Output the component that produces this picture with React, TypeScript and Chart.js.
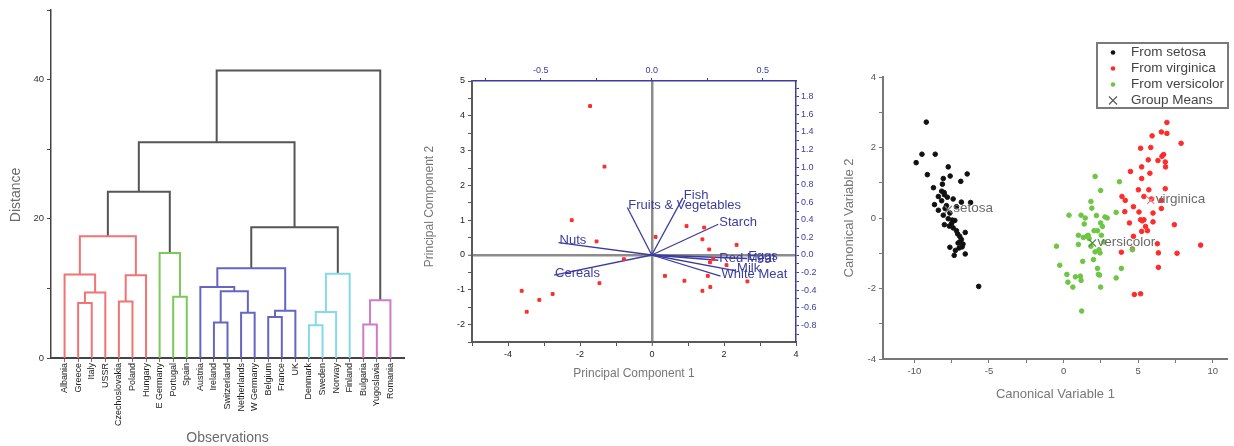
import React, { useEffect, useRef } from 'react';
import { Chart, registerables } from 'chart.js';

Chart.register(...registerables);

const FONT = "'Liberation Sans', Arial, sans-serif";

// ---------------- Panel 1: dendrogram ----------------
const countries = ['Albania', 'Greece', 'Italy', 'USSR', 'Czechoslovakia', 'Poland', 'Hungary', 'E Germany', 'Portugal', 'Spain', 'Austria', 'Ireland', 'Switzerland', 'Netherlands', 'W Germany', 'Belgium', 'France', 'UK', 'Denmark', 'Sweden', 'Norway', 'Finland', 'Bulgaria', 'Yugoslavia', 'Romania'];
const countryCluster = [0, 0, 0, 0, 0, 0, 0, 1, 1, 1, 2, 2, 2, 2, 2, 2, 2, 2, 3, 3, 3, 3, 4, 4, 4];
// linkage: node ids < 25 are countries, 25 + k is the k-th merge
const mergeLeft = [1, 25, 0, 4, 28, 27, 8, 7, 30, 11, 13, 34, 10, 15, 38, 37, 18, 41, 42, 40, 33, 22, 46, 45];
const mergeRight = [2, 3, 26, 5, 6, 29, 9, 31, 32, 12, 14, 35, 36, 16, 17, 39, 19, 20, 21, 43, 44, 23, 24, 47];
const mergeHeight = [7.9, 9.4, 12.0, 8.1, 11.9, 17.5, 8.8, 15.1, 23.9, 5.1, 6.5, 9.6, 10.2, 5.9, 6.8, 12.9, 4.7, 6.6, 12.1, 18.8, 31.0, 4.8, 8.3, 41.3];
const distanceTicks = [0, 10, 20, 30, 40, 50];
const distanceLabelled = [0, 20, 40];

// ---------------- Panel 2: biplot ----------------
const scorePC1 = [-1.72, -1.32, -2.23, -1.54, -0.78, -1.46, -3.62, -2.76, -3.13, -3.48, 0.10, 0.96, 1.45, 1.40, 1.59, 2.35, 1.70, 1.61, 2.07, 0.36, 0.90, 1.55, 1.40, 1.62, 2.65];
const scorePC2 = [4.28, 2.54, 1.00, 0.39, -0.12, -0.81, -1.03, -1.12, -1.29, -1.63, 0.52, 0.83, 0.79, 0.45, 0.16, 0.29, -0.11, -0.21, -0.29, -0.60, -0.74, -0.60, -1.03, -0.92, -0.76];
const foodVariables = ['Red Meat', 'White Meat', 'Eggs', 'Milk', 'Fish', 'Cereals', 'Starch', 'Nuts', 'Fruits & Vegetables'];
const loadingPC1 = [0.30, 0.31, 0.43, 0.38, 0.14, -0.44, 0.30, -0.42, -0.11];
const loadingPC2 = [-0.06, -0.24, -0.04, -0.18, 0.65, -0.23, 0.35, 0.14, 0.54];
const pc1Range = [-5, 4];
const pc2Range = [-2.5, 5];
const loading1Range = [-0.81, 0.65];
const loading2Range = [-0.99, 1.98];
const pc1Ticks = [-5, -4, -3, -2, -1, 0, 1, 2, 3, 4];
const pc1Labelled = [-4, -2, 0, 2, 4];
const pc2Ticks = [-2.5, -2, -1.5, -1, -0.5, 0, 0.5, 1, 1.5, 2, 2.5, 3, 3.5, 4, 4.5, 5];
const pc2Labelled = [-2, -1, 0, 1, 2, 3, 4, 5];
const loading1Ticks = [-0.75, -0.5, -0.25, 0, 0.25, 0.5];
const loading1Labelled = [-0.5, 0, 0.5];
const loading2Ticks = [-0.9, -0.8, -0.7, -0.6, -0.5, -0.4, -0.3, -0.2, -0.1, 0, 0.1, 0.2, 0.3, 0.4, 0.5, 0.6, 0.7, 0.8, 0.9, 1.0, 1.1, 1.2, 1.3, 1.4, 1.5, 1.6, 1.7, 1.8, 1.9];
const loading2Labelled = [-0.8, -0.6, -0.4, -0.2, 0, 0.2, 0.4, 0.6, 0.8, 1.0, 1.2, 1.4, 1.6, 1.8];

// ---------------- Panel 3: canonical (LDA) scores ----------------
const setosaCV1 = [-9.20, -9.49, -8.60, -9.88, -9.13, -7.73, -7.60, -8.06, -6.46, -6.89, -8.12, -8.72, -8.17, -7.99, -8.39, -7.79, -7.40, -8.17, -6.85, -6.23, -8.65, -7.18, -7.94, -8.39, -7.62, -8.06, -7.73, -7.29, -7.99, -7.66, -7.40, -7.18, -6.59, -6.96, -6.85, -7.07, -6.74, -7.62, -7.25, -7.33, -6.59, -5.69, -7.46, -7.10, -6.95, -7.00, -8.00, -7.85, -7.50, -6.80];
const setosaCV2 = [2.72, 1.81, 1.81, 1.57, 1.23, 1.45, 1.19, 1.12, 1.25, 1.04, 0.96, 0.86, 0.76, 0.66, 0.61, 0.59, 0.54, 0.49, 0.45, 0.44, 0.38, 0.32, 0.27, 0.22, 0.14, 0.08, -0.02, -0.07, -0.19, -0.23, -0.28, -0.36, -0.41, -0.52, -0.61, -0.71, -0.74, -0.83, -0.92, -1.06, -1.02, -1.94, -0.06, -0.45, -0.68, -0.85, 0.72, 0.35, -0.15, -0.82];
const virginicaCV1 = [6.92, 6.55, 6.92, 5.93, 7.87, 5.84, 5.16, 6.70, 6.59, 5.67, 6.32, 6.81, 6.83, 5.23, 4.48, 5.78, 5.23, 5.01, 5.71, 6.81, 3.91, 4.13, 5.38, 5.89, 6.55, 4.68, 6.55, 4.10, 5.05, 5.99, 5.16, 5.38, 4.41, 5.99, 7.42, 5.49, 5.23, 5.62, 4.68, 6.28, 9.18, 4.61, 3.87, 6.35, 7.60, 6.35, 4.74, 5.16, 5.27];
const virginicaCV2 = [2.71, 2.44, 2.40, 2.33, 2.12, 2.00, 1.98, 1.80, 1.75, 1.65, 1.63, 1.59, 1.45, 1.45, 1.32, 1.27, 1.12, 0.80, 0.80, 0.83, 0.61, 0.50, 0.61, 0.54, 0.50, 0.32, 0.27, 0.18, 0.17, 0.14, -0.05, -0.05, -0.14, -0.11, -0.19, -0.24, -0.38, -0.36, -0.52, -0.73, -0.77, -0.88, -0.97, -0.99, -1.00, -1.40, -2.17, -2.15, -0.08];
const versicolorCV1 = [2.11, 3.74, 2.48, 1.83, 1.89, 3.52, 0.36, 1.17, 1.45, 2.20, 2.77, 2.92, 1.38, 2.48, 2.60, 2.04, 2.27, 0.99, 1.65, 1.32, 2.53, 1.71, 2.70, -0.48, 0.99, 1.83, 2.37, 4.61, 2.11, 2.44, 1.28, 2.00, -0.26, 2.27, 3.87, 0.22, 2.33, 0.79, 1.12, 1.17, 0.29, 3.52, 0.62, 2.48, 1.21, 1.55, 2.41];
const versicolorCV2 = [1.18, 1.03, 0.78, 0.47, 0.28, 0.16, 0.08, 0.08, 0.00, 0.07, 0.03, 0.00, -0.17, -0.14, -0.24, -0.36, -0.36, -0.49, -0.49, -0.55, -0.49, -0.58, -0.68, -0.80, -0.75, -0.80, -0.90, -0.90, -0.96, -0.99, -1.23, -1.18, -1.34, -1.43, -1.43, -1.60, -1.60, -1.67, -1.65, -1.77, -1.82, -1.70, -1.96, -1.96, -2.64, -0.52, -1.62];
const groupNames = ['setosa', 'versicolor', 'virginica'];
const groupMeanCV1 = [-7.73, 1.93, 5.84];
const groupMeanCV2 = [0.24, -0.71, 0.50];
const cv1Range = [-12.1, 11];
const cv2Range = [-4, 4];
const cv1Ticks = [-10, -7.5, -5, -2.5, 0, 2.5, 5, 7.5, 10];
const cv1Labelled = [-10, -5, 0, 5, 10];
const cv2Ticks = [-4, -3, -2, -1, 0, 1, 2, 3, 4];
const cv2Labelled = [-4, -2, 0, 2, 4];

// ---------------- helpers ----------------
const near = (list: number[], v: number) => list.some((x) => Math.abs(x - v) < 1e-6);
const setTicks = (values: number[]) => (scale: any) => {
  scale.ticks = values.map((v) => ({ value: v }));
};

type TextItem = { text: string; x: number; y: number; rotate?: number; size: number; color: string; align?: CanvasTextAlign };

function drawTexts(ctx: CanvasRenderingContext2D, items: TextItem[]) {
  for (const t of items) {
    ctx.save();
    ctx.translate(t.x, t.y);
    if (t.rotate) ctx.rotate(t.rotate);
    ctx.font = `${t.size}px ${FONT}`;
    ctx.fillStyle = t.color;
    ctx.textAlign = t.align || 'center';
    ctx.textBaseline = 'middle';
    ctx.fillText(t.text, 0, 0);
    ctx.restore();
  }
}

const CLUSTER_COLORS = ['#f27373', '#7cc85a', '#6666c2', '#86d9e8', '#d07ac9'];
const LINK_GRAY = '#555555';
const BLUE = '#3c3ca0';

function buildLinks() {
  const xs: number[] = countries.map((_, i) => i);
  const hs: number[] = countries.map(() => 0);
  const cl: number[] = countryCluster.slice();
  const links: { points: { x: number; y: number }[]; cluster: number }[] = [];
  mergeHeight.forEach((h, k) => {
    const a = mergeLeft[k];
    const b = mergeRight[k];
    const c = cl[a] === cl[b] ? cl[a] : -1;
    links.push({
      points: [
        { x: xs[a], y: hs[a] },
        { x: xs[a], y: h },
        { x: xs[b], y: h },
        { x: xs[b], y: hs[b] },
      ],
      cluster: c,
    });
    xs.push((xs[a] + xs[b]) / 2);
    hs.push(h);
    cl.push(c);
  });
  return links;
}

function makeDendrogram(canvas: HTMLCanvasElement) {
  const links = buildLinks();
  return new Chart(canvas, {
    type: 'scatter',
    data: {
      datasets: links.map((l) => ({
        data: l.points,
        showLine: true,
        borderColor: l.cluster >= 0 ? CLUSTER_COLORS[l.cluster] : LINK_GRAY,
        borderWidth: 2,
        pointRadius: 0,
        tension: 0,
      })),
    },
    options: {
      animation: false,
      responsive: false,
      devicePixelRatio: 1,
      layout: { padding: { top: 10, right: 16, left: 0, bottom: 0 } },
      plugins: { legend: { display: false }, tooltip: { enabled: false } },
      scales: {
        x: {
          type: 'linear',
          min: -1,
          max: 25,
          afterBuildTicks: setTicks(countries.map((_, i) => i)),
          afterFit: (s: any) => { s.height = 88; },
          grid: { drawOnChartArea: false, tickLength: 4, tickColor: '#777', tickWidth: 1 },
          border: { color: '#444', width: 2 },
          ticks: {
            autoSkip: false,
            minRotation: 90,
            maxRotation: 90,
            padding: 1,
            color: '#222',
            font: { size: 9, family: FONT },
            callback: (v: any) => countries[Math.round(Number(v))] ?? '',
          },
        },
        y: {
          type: 'linear',
          min: 0,
          max: 50,
          afterBuildTicks: setTicks(distanceTicks),
          afterFit: (s: any) => { s.width = 51; },
          grid: { drawOnChartArea: false, tickLength: 4, tickColor: '#444', tickWidth: 1 },
          border: { color: '#444', width: 1.5 },
          ticks: {
            autoSkip: false,
            padding: 3,
            color: '#333',
            font: { size: 9.5, family: FONT },
            callback: (v: any) => (near(distanceLabelled, Number(v)) ? String(v) : ''),
          },
        },
      },
    },
    plugins: [
      {
        id: 'dendroTitles',
        afterDraw(chart: any) {
          const ca = chart.chartArea;
          drawTexts(chart.ctx, [
            { text: 'Distance', x: ca.left - 35, y: 195, rotate: -Math.PI / 2, size: 14, color: '#6a6a6a' },
            { text: 'Observations', x: (ca.left + ca.right) / 2, y: ca.bottom + 80, size: 14, color: '#6a6a6a' },
          ]);
        },
      },
    ],
  } as any);
}

function makeBiplot(canvas: HTMLCanvasElement) {
  const scoreData = scorePC1.map((x, i) => ({ x, y: scorePC2[i] }));
  const vectorSets = foodVariables.map((name, i) => ({
    label: name,
    data: [{ x: 0, y: 0 }, { x: loadingPC1[i], y: loadingPC2[i] }],
    showLine: true,
    borderColor: BLUE,
    borderWidth: 1.3,
    pointRadius: 0,
    xAxisID: 'x2',
    yAxisID: 'y2',
    order: 2,
  }));
  const zeroLine = (c: any) => (c.tick && Math.abs(c.tick.value) < 1e-9 ? '#8c8c8c' : 'rgba(0,0,0,0)');
  const zeroWidth = (c: any) => (c.tick && Math.abs(c.tick.value) < 1e-9 ? 2.5 : 1);
  return new Chart(canvas, {
    type: 'scatter',
    data: {
      datasets: [
        {
          label: 'Scores',
          data: scoreData,
          backgroundColor: '#ff2a2a',
          borderColor: '#ff2a2a',
          pointRadius: 2,
          pointStyle: 'rect',
          xAxisID: 'x',
          yAxisID: 'y',
          order: 0,
        },
        ...vectorSets,
      ],
    },
    options: {
      animation: false,
      responsive: false,
      devicePixelRatio: 1,
      layout: { padding: { top: 51, right: 0, left: 0, bottom: 0 } },
      plugins: { legend: { display: false }, tooltip: { enabled: false } },
      scales: {
        x: {
          type: 'linear',
          position: 'bottom',
          min: pc1Range[0],
          max: pc1Range[1],
          afterBuildTicks: setTicks(pc1Ticks),
          afterFit: (s: any) => { s.height = 104; },
          grid: { drawOnChartArea: true, color: zeroLine, lineWidth: zeroWidth, tickLength: 4, tickColor: '#555', tickWidth: 1 },
          border: { color: '#5a5a5a', width: 2 },
          ticks: {
            autoSkip: false,
            padding: 3,
            color: '#222',
            font: { size: 9, family: FONT },
            callback: (v: any) => (near(pc1Labelled, Number(v)) ? String(v) : ''),
          },
        },
        x2: {
          type: 'linear',
          position: 'top',
          min: loading1Range[0],
          max: loading1Range[1],
          afterBuildTicks: setTicks(loading1Ticks),
          afterFit: (s: any) => { s.height = 30; },
          grid: { drawOnChartArea: false, tickLength: 3, tickColor: BLUE, tickWidth: 1 },
          border: { color: BLUE, width: 1.5 },
          ticks: {
            autoSkip: false,
            padding: 2,
            color: BLUE,
            font: { size: 9, family: FONT },
            callback: (v: any) => (near(loading1Labelled, Number(v)) ? Number(v).toFixed(1) : ''),
          },
        },
        y: {
          type: 'linear',
          position: 'left',
          min: pc2Range[0],
          max: pc2Range[1],
          afterBuildTicks: setTicks(pc2Ticks),
          afterFit: (s: any) => { s.width = 52; },
          grid: { drawOnChartArea: true, color: zeroLine, lineWidth: zeroWidth, tickLength: 4, tickColor: '#555', tickWidth: 1 },
          border: { color: '#5a5a5a', width: 2 },
          ticks: {
            autoSkip: false,
            padding: 3,
            color: '#222',
            font: { size: 9, family: FONT },
            callback: (v: any) => (near(pc2Labelled, Number(v)) ? String(v) : ''),
          },
        },
        y2: {
          type: 'linear',
          position: 'right',
          min: loading2Range[0],
          max: loading2Range[1],
          afterBuildTicks: setTicks(loading2Ticks),
          afterFit: (s: any) => { s.width = 34; },
          grid: { drawOnChartArea: false, tickLength: 3, tickColor: BLUE, tickWidth: 1 },
          border: { color: BLUE, width: 1.5 },
          ticks: {
            autoSkip: false,
            padding: 2,
            color: BLUE,
            font: { size: 9, family: FONT },
            callback: (v: any) => (near(loading2Labelled, Number(v)) ? Number(v).toFixed(1) : ''),
          },
        },
      },
    },
    plugins: [
      {
        id: 'biplotTexts',
        beforeDatasetsDraw(chart: any) {
          const sx = chart.scales.x2;
          const sy = chart.scales.y2;
          drawTexts(
            chart.ctx,
            foodVariables.map((name, i) => ({
              text: name,
              x: sx.getPixelForValue(loadingPC1[i]) + 1,
              y: sy.getPixelForValue(loadingPC2[i]) - 2,
              size: 13,
              color: BLUE,
              align: 'left' as CanvasTextAlign,
            }))
          );
        },
        afterDraw(chart: any) {
          const ca = chart.chartArea;
          drawTexts(chart.ctx, [
            { text: 'Principal Component 1', x: (ca.left + ca.right) / 2, y: ca.bottom + 32, size: 12, color: '#777' },
            { text: 'Principal Component 2', x: ca.left - 42, y: (ca.top + ca.bottom) / 2 - 5, rotate: -Math.PI / 2, size: 12, color: '#777' },
          ]);
        },
      },
    ],
  } as any);
}

function makeLda(canvas: HTMLCanvasElement) {
  const toPts = (a: number[], b: number[]) => a.map((x, i) => ({ x, y: b[i] }));
  const meanColors = ['#777777', '#4d8a3a', '#f07a7a'];
  return new Chart(canvas, {
    type: 'scatter',
    data: {
      datasets: [
        { label: 'From setosa', data: toPts(setosaCV1, setosaCV2), backgroundColor: '#111', borderColor: '#111', pointRadius: 2.3, order: 3 },
        { label: 'From virginica', data: toPts(virginicaCV1, virginicaCV2), backgroundColor: '#ff2b2b', borderColor: '#ff2b2b', pointRadius: 2.3, order: 2 },
        { label: 'From versicolor', data: toPts(versicolorCV1, versicolorCV2), backgroundColor: '#6cc644', borderColor: '#6cc644', pointRadius: 2.3, order: 1 },
        {
          label: 'Group Means',
          data: toPts(groupMeanCV1, groupMeanCV2),
          pointStyle: 'crossRot',
          pointRadius: 5,
          borderWidth: 1.2,
          borderColor: meanColors,
          backgroundColor: meanColors,
          order: 0,
        },
      ],
    },
    options: {
      animation: false,
      responsive: false,
      devicePixelRatio: 1,
      layout: { padding: { top: 77, right: 0, left: 0, bottom: 0 } },
      plugins: { legend: { display: false }, tooltip: { enabled: false } },
      scales: {
        x: {
          type: 'linear',
          min: cv1Range[0],
          max: cv1Range[1],
          afterBuildTicks: setTicks(cv1Ticks),
          afterFit: (s: any) => { s.height = 87; },
          grid: { drawOnChartArea: false, tickLength: 4, tickColor: '#777', tickWidth: 1 },
          border: { color: '#777', width: 2 },
          ticks: {
            autoSkip: false,
            padding: 3,
            color: '#555',
            font: { size: 9.5, family: FONT },
            callback: (v: any) => (near(cv1Labelled, Number(v)) ? String(v) : ''),
          },
        },
        y: {
          type: 'linear',
          min: cv2Range[0],
          max: cv2Range[1],
          afterBuildTicks: setTicks(cv2Ticks),
          afterFit: (s: any) => { s.width = 53; },
          grid: { drawOnChartArea: false, tickLength: 4, tickColor: '#777', tickWidth: 1 },
          border: { color: '#777', width: 2 },
          ticks: {
            autoSkip: false,
            padding: 3,
            color: '#555',
            font: { size: 9.5, family: FONT },
            callback: (v: any) => (near(cv2Labelled, Number(v)) ? String(v) : ''),
          },
        },
      },
    },
    plugins: [
      {
        id: 'ldaTexts',
        afterDraw(chart: any) {
          const ctx: CanvasRenderingContext2D = chart.ctx;
          const ca = chart.chartArea;
          const sx = chart.scales.x;
          const sy = chart.scales.y;
          drawTexts(ctx, [
            { text: 'Canonical Variable 1', x: (ca.left + ca.right) / 2, y: ca.bottom + 35, size: 13, color: '#777' },
            { text: 'Canonical Variable 2', x: ca.left - 34, y: (ca.top + ca.bottom) / 2, rotate: -Math.PI / 2, size: 13, color: '#777' },
            ...groupNames.map((g, i) => ({
              text: g,
              x: sx.getPixelForValue(groupMeanCV1[i]) + 5,
              y: sy.getPixelForValue(groupMeanCV2[i]) - 1,
              size: 13.5,
              color: '#6a6a6a',
              align: 'left' as CanvasTextAlign,
            })),
          ]);
          // legend box
          const bx = 267;
          const by = 43;
          const bw = 131;
          const bh = 65;
          ctx.save();
          ctx.strokeStyle = '#7a7a7a';
          ctx.lineWidth = 2;
          ctx.strokeRect(bx, by, bw, bh);
          chart.data.datasets.forEach((ds: any, i: number) => {
            const y = by + 9.5 + i * 16;
            const x = bx + 16;
            if (ds.pointStyle === 'crossRot') {
              ctx.strokeStyle = '#555';
              ctx.lineWidth = 1.1;
              ctx.beginPath();
              ctx.moveTo(x - 4, y - 4);
              ctx.lineTo(x + 4, y + 4);
              ctx.moveTo(x + 4, y - 4);
              ctx.lineTo(x - 4, y + 4);
              ctx.stroke();
            } else {
              ctx.fillStyle = ds.backgroundColor;
              ctx.beginPath();
              ctx.arc(x, y, 2.3, 0, Math.PI * 2);
              ctx.fill();
            }
          });
          ctx.restore();
          drawTexts(
            ctx,
            chart.data.datasets.map((ds: any, i: number) => ({
              text: ds.label,
              x: bx + 34,
              y: by + 9.5 + i * 16,
              size: 13.5,
              color: '#444',
              align: 'left' as CanvasTextAlign,
            }))
          );
        },
      },
    ],
  } as any);
}

export default function App() {
  const r1 = useRef<HTMLCanvasElement>(null);
  const r2 = useRef<HTMLCanvasElement>(null);
  const r3 = useRef<HTMLCanvasElement>(null);
  useEffect(() => {
    const charts = [makeDendrogram(r1.current!), makeBiplot(r2.current!), makeLda(r3.current!)];
    return () => charts.forEach((c) => c.destroy());
  }, []);
  return (
    <div style={{ position: 'absolute', left: 0, top: 0, width: 1234, height: 446, background: '#fff', overflow: 'hidden' }}>
      <canvas ref={r1} width={420} height={446} style={{ position: 'absolute', left: 0, top: 0 }} />
      <canvas ref={r2} width={410} height={446} style={{ position: 'absolute', left: 420, top: 0 }} />
      <canvas ref={r3} width={404} height={446} style={{ position: 'absolute', left: 830, top: 0 }} />
    </div>
  );
}
